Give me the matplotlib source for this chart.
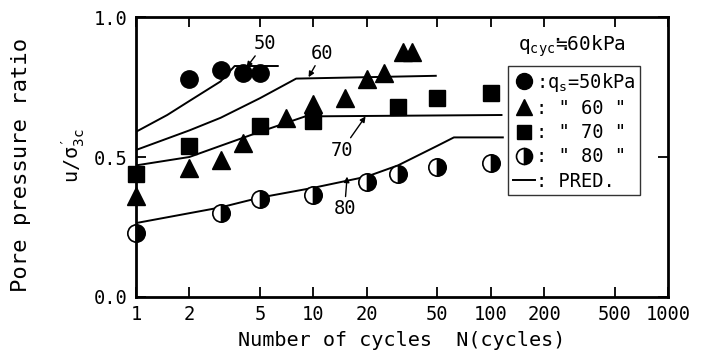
import matplotlib
matplotlib.use("Agg")
import matplotlib.pyplot as plt
from matplotlib.lines import Line2D

plt.rcParams['font.family'] = ['DejaVu Sans Mono', 'DejaVu Sans']
plt.rcParams['mathtext.fontset'] = 'custom'
plt.rcParams['mathtext.rm'] = 'DejaVu Sans Mono'
plt.rcParams['mathtext.it'] = 'DejaVu Sans Mono'

# measured data
n_50 = [2, 3, 4, 5]
u_50 = [0.78, 0.81, 0.80, 0.80]
n_60 = [1, 2, 3, 4, 7, 10, 15, 20, 25, 32, 36]
u_60 = [0.36, 0.46, 0.49, 0.55, 0.64, 0.69, 0.71, 0.78, 0.80, 0.875, 0.875]
n_70 = [1, 2, 5, 10, 30, 50, 100]
u_70 = [0.44, 0.54, 0.61, 0.63, 0.68, 0.71, 0.73]
n_80 = [1, 3, 5, 10, 20, 30, 50, 100]
u_80 = [0.23, 0.30, 0.35, 0.365, 0.41, 0.44, 0.465, 0.48]

# predicted curves
pn_50 = [1, 1.5, 2, 3, 3.6, 6.3]
pu_50 = [0.59, 0.65, 0.70, 0.77, 0.825, 0.825]
pn_60 = [1, 2, 3, 5, 8, 49]
pu_60 = [0.525, 0.595, 0.64, 0.71, 0.78, 0.79]
pn_70 = [1, 2, 3, 5, 9, 115]
pu_70 = [0.47, 0.50, 0.54, 0.59, 0.645, 0.65]
pn_80 = [1, 3, 5, 10, 20, 30, 50, 62, 117]
pu_80 = [0.264, 0.32, 0.355, 0.39, 0.43, 0.47, 0.54, 0.57, 0.57]

xticks = [1, 2, 5, 10, 20, 50, 100, 200, 500, 1000]
xticklabels = ['1', '2', '5', '10', '20', '50', '100', '200', '500', '1000']
yticks = [0.0, 0.5, 1.0]
yticklabels = ['0.0', '0.5', '1.0']

fig = plt.figure(figsize=(7.1, 3.58), dpi=100)
ax = fig.add_axes([0.1915, 0.1704, 0.7495, 0.7821])
ax.set_xscale('log')
ax.set_xlim(1, 1000)
ax.set_ylim(0, 1.0)

for s in ax.spines.values():
    s.set_linewidth(2)

ms = 12.5
ax.plot(pn_50, pu_50, color='black', lw=1.4)
ax.plot(pn_60, pu_60, color='black', lw=1.4)
ax.plot(pn_70, pu_70, color='black', lw=1.4)
ax.plot(pn_80, pu_80, color='black', lw=1.4)

ax.plot(n_50, u_50, 'o', color='black', ms=ms, clip_on=False)
ax.plot(n_60, u_60, '^', color='black', ms=ms, clip_on=False)
ax.plot(n_70, u_70, 's', color='black', ms=ms - 1.5, clip_on=False)
ax.plot(n_80, u_80, 'o', color='black', ms=ms, fillstyle='right',
        markerfacecolor='black', markerfacecoloralt='white',
        markeredgecolor='black', mew=1.2, clip_on=False)

ax.set_xticks(xticks)
ax.set_xticklabels(xticklabels)
ax.xaxis.set_minor_locator(matplotlib.ticker.NullLocator())
ax.set_yticks(yticks)
ax.set_yticklabels(yticklabels)
ax.tick_params(direction='in', length=7, width=1.3, labelsize=13.5,
               top=True, right=True, pad=6)

ax.set_xlabel('Number of cycles  N(cycles)', fontsize=14.5, labelpad=5)
ax.set_ylabel('Pore pressure ratio', fontsize=16)
ax.yaxis.set_label_coords(-0.198, 0.47)
fig.text(0.103, 0.565, r"$\mathregular{u/\sigma_{3c}^{\prime}}$", rotation=90,
         fontsize=14.5, ha='center', va='center')

arrow = dict(arrowstyle='-|>', color='black', lw=1.0, mutation_scale=8,
             shrinkA=0, shrinkB=0)
ax.annotate('50', xy=(4.2, 0.82), xytext=(5.3, 0.905), fontsize=13.5,
            ha='center', va='center', arrowprops=arrow)
ax.annotate('60', xy=(9.4, 0.785), xytext=(11.2, 0.87), fontsize=13.5,
            ha='center', va='center', arrowprops=arrow)
ax.annotate('70', xy=(19.7, 0.645), xytext=(14.5, 0.525), fontsize=13.5,
            ha='center', va='center', arrowprops=arrow)
ax.annotate('80', xy=(15.5, 0.43), xytext=(15.0, 0.315), fontsize=13.5,
            ha='center', va='center', arrowprops=arrow)

ax.text(0.82, 0.895, r"$\mathregular{q_{cyc}}$≒60kPa", transform=ax.transAxes,
        fontsize=14, ha='center', va='center')

handles = [
    Line2D([], [], ls='none', marker='o', color='black', ms=ms - 1),
    Line2D([], [], ls='none', marker='^', color='black', ms=ms - 1),
    Line2D([], [], ls='none', marker='s', color='black', ms=ms - 2),
    Line2D([], [], ls='none', marker='o', color='black', ms=ms - 1, fillstyle='right',
           markerfacecolor='black', markerfacecoloralt='white', mew=1.2),
    Line2D([], [], color='black', lw=1.4),
]
labels = [r":$\mathregular{q_s}$=50kPa", ': " 60 "', ': " 70 "',
          ': " 80 "', ': PRED.']
leg = ax.legend(handles, labels, loc='upper left', bbox_to_anchor=(0.699, 0.825),
                fontsize=13.5, frameon=True, fancybox=False, edgecolor='black',
                handlelength=1.2, handletextpad=0.05, borderpad=0.25,
                labelspacing=0.28, borderaxespad=0)
leg.get_frame().set_linewidth(1.0)

fig.savefig('out.png', dpi=100)
